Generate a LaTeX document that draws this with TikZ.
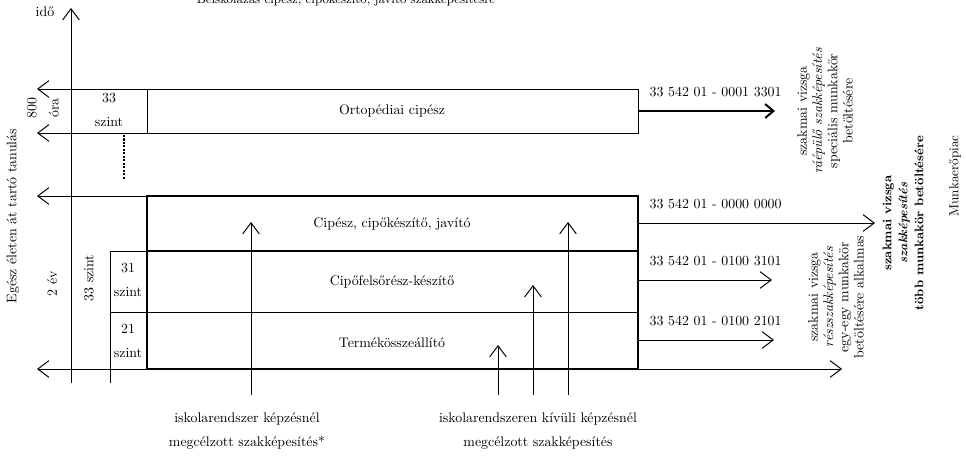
\documentclass[tikz,border=0pt]{standalone}
\usetikzlibrary{arrows.meta}
\begin{document}
\begin{tikzpicture}[
              x = 0.72pt, y = -0.72pt,
              > = {Straight Barb[length=8pt,width=12pt]},
  bandline/.style = {line width=0.7pt},
   boldbox/.style = {line width=1.6pt},
  boldarrow/.style = {line width=1.4pt,-{Straight Barb[length=6pt,width=10pt]}},
  codetext/.style = {anchor=west, inner sep=1pt},
  celltext/.style = {align=center, inner sep=1pt},
  sidetext/.style = {rotate=90, align=center, inner sep=1pt,
                     font=\fontsize{10}{11}\selectfont}
                        ]
\useasboundingbox (0,0) rectangle (966,456);
% coordinates
    \draw[->, bandline] (71,383) coordinate (O) -- (71,8) coordinate (top);
    \node (ido) at (45,12) {idő};
    \node[anchor=base, font=\small] (title) at (346,4) {Beiskolázás cipész, cipőkészítő, javító szakképesítésre};
% upper band (800 ora)
    \draw[bandline] (71,89) coordinate (u1) rectangle (638,133) coordinate (u2);
    \draw[bandline] (147,89) -- (147,133);
    \draw[->, bandline] (u1) -- (37,89);
    \draw[->, bandline] (71,133) -- (37,133);
    \node[celltext] (sz33) at (109,110) {33\\[5pt]szint};
    \node (orto) at (392,111) {Ortopédiai cipész};
    \draw[boldarrow] (638,111) coordinate (o1) -- (775,111) coordinate (o2);
    \node[codetext] (k1) at (648,92) {33 542 01 - 0001 3301};
    \draw[densely dotted, line width=1.5pt] (124,135) -- (124,180);
% lower band (2 ev)
    \draw[boldbox] (147,196) coordinate (b1) rectangle (638,369) coordinate (b2);
    \draw[boldbox] (147,251) -- (638,251);
    \draw[bandline] (147,312) -- (638,312);
    \draw[->, bandline] (b1) -- (37,196);
    \draw[<->, bandline] (37,369) -- (842,369);
    \draw[bandline] (110,383) -- (110,251) -- (147,251);
    \draw[bandline] (110,312) -- (147,312);
    \node[celltext] (sz31) at (128,280) {31\\[5pt]szint};
    \node[celltext] (sz21) at (128,341) {21\\[5pt]szint};
    \node (cipesz) at (392,224) {Cipész, cipőkészítő, javító};
    \node (felso)  at (392,282) {Cipőfelsőrész-készítő};
    \node (termek) at (392,343) {Termékösszeállító};
% outputs
    \draw[->, bandline] (638,223) -- (875,223);
    \draw[->, bandline] (638,280) -- (772,280);
    \draw[->, bandline] (638,340) -- (774,340);
    \node[codetext] (k2) at (648,204) {33 542 01 - 0000 0000};
    \node[codetext] (k3) at (648,261) {33 542 01 - 0100 3101};
    \node[codetext] (k4) at (648,321) {33 542 01 - 0100 2101};
% side texts
    \node[rotate=90] (tanul) at (13,216) {Egész életen át tartó tanulás};
    \node[rotate=90, align=center, inner sep=1pt] (ora) at (43,108) {800\\[4pt]óra};
    \node[rotate=90] (ev) at (52,284) {2 év};
    \node[rotate=90] (szint) at (89,278) {33 szint};
    \node[sidetext] (g1) at (825,111) {szakmai vizsga\\\textit{ráépülő szakképesítés}\\speciális munkakör\\betöltésére};
    \node[sidetext] (g2) at (836,297) {szakmai vizsga\\\textit{részszakképesítés}\\egy-egy munkakör\\betöltésére alkalmas};
    \node[sidetext, font=\fontsize{9}{11.5}\selectfont\bfseries] (g3) at (903,223) {szakmai vizsga\\\textit{szakképesítés}\\több munkakör betöltésére};
    \node[rotate=90, font=\fontsize{9.5}{11}\selectfont] (piac) at (955,176) {Munkaerőpiac};
% entry arrows
    \foreach \x/\y in {251/222, 498/345, 533/285, 568/222}
        \draw[->, bandline] (\x,395) coordinate (e\x) -- (\x,\y);
    \node[align=center] (isk) at (247,431) {iskolarendszer képzésnél\\[5pt]megcélzott szakképesítés*};
    \node[align=center] (kivul) at (538,431) {iskolarendszeren kívüli képzésnél\\[5pt]megcélzott szakképesítés};
\end{tikzpicture}
\end{document}
